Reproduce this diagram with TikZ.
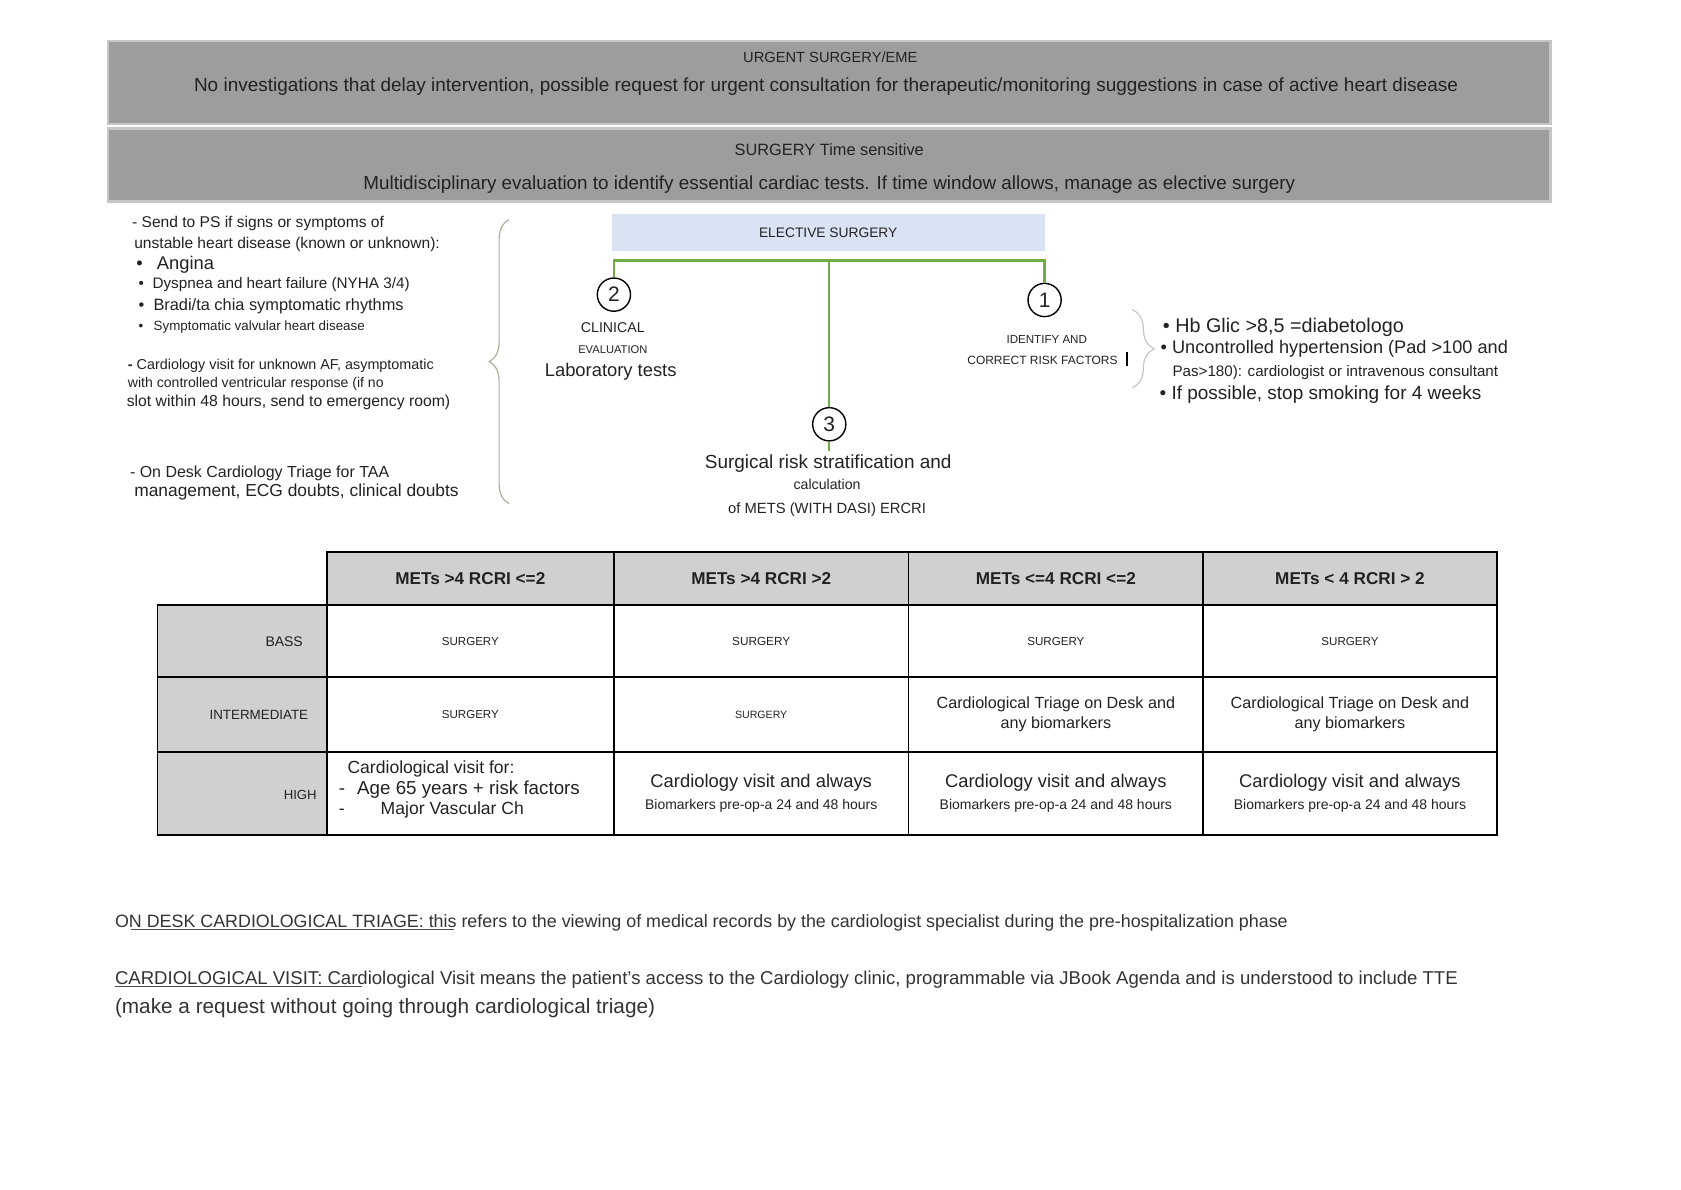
\documentclass[tikz,border=0pt]{standalone}
\usepackage{fontspec}
\setmainfont{Liberation Sans}
\usepackage{tikz}
\usetikzlibrary{shapes, calc, arrows, math, decorations.pathreplacing}
\newcommand\pxl{0.5367pt}
\newcommand\fs[2]{\fontsize{#1}{#2}\selectfont}
\definecolor{barfill}{HTML}{9D9D9D}
\definecolor{barline}{HTML}{C6C6C6}
\definecolor{elec}{HTML}{DAE3F3}
\definecolor{gline}{HTML}{70AD47}
\definecolor{hd}{HTML}{D0D0D0}
\definecolor{tx}{HTML}{222222}
\definecolor{brc}{HTML}{A7B29A}

\begin{document}
\begin{tikzpicture}[x=\pxl, y=-\pxl, >=triangle 45,
  every node/.style={inner sep=0pt, text=tx},
  banner/.style={fill=barfill, draw=barline, line width=1.2pt, minimum width={1346*\pxl}},
  num/.style={circle, draw, line width=0.7pt, minimum size={31*\pxl}, font=\fs{10.5}{12}},
  green/.style={draw=gline, line width=1.2pt},
  curly/.style={decorate, decoration={brace, amplitude=#1}, draw=brc, line width=0.6pt},
  cell/.style 2 args={draw, line width=0.9pt, minimum width={#1*\pxl}, minimum height={#2*\pxl}},
  hdr/.style={fill=hd, font=\bfseries\fs{8.6}{10}},
  twol/.style={align=center, font=\fs{8.1}{9.9}},
  visit/.style={align=center, font=\fs{9.2}{11}}]

\useasboundingbox (0,0) rectangle (1569,1109.8);

% top banners
\node[banner, minimum height={78*\pxl}] (urg) at (774,77) {};
\node[banner, minimum height={68*\pxl}] (tsens) at (774,154) {};
\node[font=\fs{7.35}{9}] (urgt) at (775,53) {URGENT SURGERY/EME};
\node[font=\fs{9.5}{11}] (urgd) at (771,81) {No investigations that delay intervention, possible request for urgent consultation for therapeutic/monitoring suggestions in case of active heart disease};
\node[font=\fs{8.2}{9}] (tst) at (774,140) {SURGERY Time sensitive};
\node[font=\fs{9.45}{11}] (tsd) at (774,172) {Multidisciplinary evaluation to identify essential cardiac tests. If time window allows, manage as elective surgery};

% left notes
\node[anchor=west, font=\fs{7.8}{9}] (ps1) at (123,209) {- Send to PS if signs or symptoms of};
\node[anchor=west, font=\fs{7.8}{9}] (ps2) at (125,228) {unstable heart disease (known or unknown):};
\node[anchor=west, font=\fs{9.2}{10}] (ang) at (127,247) {\textbullet\hspace{7pt}Angina};
\node[anchor=west, font=\fs{7.65}{9}] (dys) at (129,266) {\textbullet\hspace{4.3pt}Dyspnea and heart failure (NYHA 3/4)};
\node[anchor=west, font=\fs{8.2}{9}] (bra) at (129,286) {\textbullet\hspace{4.6pt}Bradi/ta chia symptomatic rhythms};
\node[anchor=west, font=\fs{6.7}{8}] (val) at (129,305) {\textbullet\hspace{5.2pt}Symptomatic valvular heart disease};
\node[anchor=west, font=\fs{7.2}{8}] (af1) at (119,341) {\textbf{-} Cardiology visit for unknown AF, asymptomatic};
\node[anchor=west, font=\fs{7.05}{8}] (af2) at (119,358) {with controlled ventricular response (if no};
\node[anchor=west, font=\fs{7.9}{9}] (af3) at (118,376) {slot within 48 hours, send to emergency room)};
\node[anchor=west, font=\fs{8}{9}] (taa1) at (121,442) {- On Desk Cardiology Triage for TAA};
\node[anchor=west, font=\fs{8.7}{10}] (taa2) at (125,459) {management, ECG doubts, clinical doubts};
\draw[curly=9.8pt] (475,470) -- (475,205);

% elective tree
\node[fill=elec, minimum width={404*\pxl}, minimum height={34*\pxl}, font=\fs{6.9}{8}] (el) at (773,217) {ELECTIVE SURGERY};
\node[num] (c2) at (573,275) {2};
\node[num] (c1) at (975,280) {1};
\node[num] (c3) at (774,396) {3};
\coordinate (hb) at (774,243);
\coordinate (st) at (774,421);
\draw[green] (c2.north) -- (c2.north |- hb) -- (c1.north |- hb) -- (c1.north);
\draw[green] (c3.north) -- (c3.north |- hb);
\draw[green] (c3.south) -- (st);

\node[font=\fs{7.1}{8}] (cli) at (572,306) {CLINICAL};
\node[font=\fs{5.6}{7}] (eva) at (572,326) {EVALUATION};
\node[font=\fs{9.2}{10}] (lab) at (570,347) {Laboratory tests};

\node[font=\fs{5.8}{7}] (idf) at (977,317) {IDENTIFY AND};
\node[font=\fs{6}{7}] (crf) at (973,336) {CORRECT RISK FACTORS};
\draw[line width=1.1pt] (1052,329) -- (1052,342);
\draw[curly=10.9pt, draw=barline] (1057,289) -- (1057,362);
\node[anchor=west, font=\fs{9.9}{11}] (hb1) at (1085,306) {\textbullet\ Hb Glic >8,5 =diabetologo};
\node[anchor=west, font=\fs{9.1}{10}] (hyp1) at (1083,326) {\textbullet\ Uncontrolled hypertension (Pad >100 and};
\node[anchor=west, font=\fs{7.6}{8}] (hyp2) at (1094,348) {Pas>180): cardiologist or intravenous consultant};
\node[anchor=west, font=\fs{9.5}{10}] (smk) at (1082,368) {\textbullet\ If possible, stop smoking for 4 weeks};

\node[font=\fs{9.5}{10}] (srs) at (773,433) {Surgical risk stratification and};
\node[font=\fs{7.1}{8}] (calc) at (772,452) {calculation};
\node[font=\fs{7.4}{9}] (mets) at (772,476) {of METS (WITH DASI) ERCRI};

% table
\node[cell={268}{50}, hdr] (h1) at (439,540) {METs >4 RCRI <=2};
\node[cell={275}{50}, hdr] (h2) at (710.5,540) {METs >4 RCRI >2};
\node[cell={275}{50}, hdr] (h3) at (985.5,540) {METs <=4 RCRI <=2};
\node[cell={274}{50}, hdr] (h4) at (1260,540) {METs < 4 RCRI > 2};

\node[cell={158}{67}, fill=hd] (rb) at (226,598.5) {};
\node[cell={158}{70}, fill=hd] (ri) at (226,667) {};
\node[cell={158}{77}, fill=hd] (rh) at (226,740.5) {};
\node[anchor=east, font=\fs{7}{8}] (rbt) at (283,599) {BASS};
\node[anchor=east, font=\fs{6.7}{8}] (rit) at (288,667) {INTERMEDIATE};
\node[anchor=east, font=\fs{6.6}{8}] (rht) at (296,742) {HIGH};

\node[cell={268}{67}, font=\fs{5.8}{7}] (b1) at (439,598.5) {SURGERY};
\node[cell={275}{67}, font=\fs{5.9}{7}] (b2) at (710.5,598.5) {SURGERY};
\node[cell={275}{67}, font=\fs{5.8}{7}] (b3) at (985.5,598.5) {SURGERY};
\node[cell={274}{67}, font=\fs{5.8}{7}] (b4) at (1260,598.5) {SURGERY};

\node[cell={268}{70}, font=\fs{5.8}{7}] (i1) at (439,667) {SURGERY};
\node[cell={275}{70}, font=\fs{5.3}{7}] (i2) at (710.5,667) {SURGERY};
\node[cell={275}{70}, twol] (i3) at (985.5,667) {Cardiological Triage on Desk and\\any biomarkers};
\node[cell={274}{70}, twol] (i4) at (1260,667) {Cardiological Triage on Desk and\\any biomarkers};

\node[cell={268}{77}] (x1) at (439,740.5) {};
\node[cell={275}{77}, visit] (x2) at (710.5,740.5) {Cardiology visit and always\\{\fs{7}{11}Biomarkers pre-op-a 24 and 48 hours}};
\node[cell={275}{77}, visit] (x3) at (985.5,740.5) {Cardiology visit and always\\{\fs{7}{11}Biomarkers pre-op-a 24 and 48 hours}};
\node[cell={274}{77}, visit] (x4) at (1260,740.5) {Cardiology visit and always\\{\fs{7}{11}Biomarkers pre-op-a 24 and 48 hours}};
\node[anchor=west, font=\fs{8.8}{9}] (cv1) at (324,718) {Cardiological visit for:};
\node[anchor=west, font=\fs{9.4}{10}] (cv2) at (316,737) {-\hspace{6pt}Age 65 years + risk factors};
\node[anchor=west, font=\fs{8.8}{10}] (cv3) at (316,756) {-\hspace{18pt}Major Vascular Ch};

% definitions
\node[anchor=west, font=\fs{8.95}{10}, text=black!80] (odt) at (107,861) {ON DESK CARDIOLOGICAL TRIAGE: this refers to the viewing of medical records by the cardiologist specialist during the pre-hospitalization phase};
\draw[black!70, line width=0.5pt] (122,868) -- (424,868);
\node[anchor=west, font=\fs{9.3}{10}, text=black!80] (cvd1) at (107,914) {CARDIOLOGICAL VISIT: Cardiological Visit means the patient's access to the Cardiology clinic, programmable via JBook Agenda and is understood to include TTE};
\draw[black!70, line width=0.5pt] (107,921) -- (338,921);
\node[anchor=west, font=\fs{10.4}{11}, text=black!80] (cvd2) at (107,941) {(make a request without going through cardiological triage)};

\end{tikzpicture}
\end{document}
